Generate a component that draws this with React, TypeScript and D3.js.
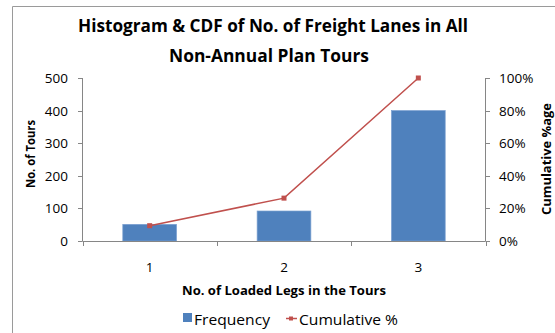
import React from "react";
import * as d3 from "d3";

const categories = ["1", "2", "3"];
const frequency = [51, 92, 400];
const cumulative = [9.4, 26.3, 100];
const leftTicks = [0, 100, 200, 300, 400, 500];
const rightTicks = [0, 20, 40, 60, 80, 100];

const W = 555;
const H = 333;
const FONT = "'Open Sans', 'Liberation Sans', sans-serif";
const AXIS = "#868686";
const BAR = "#4F81BD";
const LINE = "#C0504D";

export default function App() {
  const x = d3.scaleBand<string>().domain(categories).range([82.5, 485.5]).paddingInner(0).paddingOuter(0);
  const yL = d3.scaleLinear().domain([0, 500]).range([241, 78]);
  const yR = d3.scaleLinear().domain([0, 100]).range([241, 78]);
  const barW = x.bandwidth() * 0.4;
  const line = d3
    .line<number>()
    .x((_, i) => (x(categories[i]) as number) + x.bandwidth() / 2)
    .y((d) => yR(d));
  const boundaries = [...categories.map((c) => x(c) as number), 485.5];

  return (
    <svg
      width={W}
      height={H}
      style={{ position: "fixed", left: 0, top: 0, background: "#fff" }}
      fontFamily={FONT}
    >
      <rect x={0} y={0} width={W} height={H} fill="#fff" />
      {/* chart border */}
      <path d={`M12.5,${H} V6.5 H${W}`} fill="none" stroke="#9a9a9a" strokeWidth={1} />

      {/* title */}
      <text x={273} y={32} textAnchor="middle" fontWeight="bold" fontSize={17} fill="#000" textLength={390} lengthAdjust="spacingAndGlyphs">
        Histogram &amp; CDF of No. of Freight Lanes in All
      </text>
      <text x={269} y={62} textAnchor="middle" fontWeight="bold" fontSize={17} fill="#000" textLength={200} lengthAdjust="spacingAndGlyphs">
        Non-Annual Plan Tours
      </text>

      {/* bars */}
      {frequency.map((v, i) => {
        const cx = (x(categories[i]) as number) + x.bandwidth() / 2;
        return (
          <rect
            key={i}
            x={cx - barW / 2}
            y={yL(v)}
            width={barW}
            height={yL(0) - yL(v)}
            fill={BAR}
            stroke="#7a9fd0"
            strokeWidth={0.7}
          />
        );
      })}

      {/* left axis */}
      <line x1={82.5} x2={82.5} y1={yL(500)} y2={yL(0)} stroke={AXIS} />
      {leftTicks.map((t) => (
        <g key={t}>
          <line x1={78} x2={82.5} y1={Math.round(yL(t)) + 0.5} y2={Math.round(yL(t)) + 0.5} stroke={AXIS} />
          <text x={68} y={yL(t) + 5} textAnchor="end" fontSize={13.5} fill="#000">
            {t}
          </text>
        </g>
      ))}

      {/* right axis */}
      <line x1={485.5} x2={485.5} y1={yR(100)} y2={yR(0)} stroke={AXIS} />
      {rightTicks.map((t) => (
        <g key={t}>
          <line x1={485.5} x2={490} y1={Math.round(yR(t)) + 0.5} y2={Math.round(yR(t)) + 0.5} stroke={AXIS} />
          <text x={499} y={yR(t) + 5} textAnchor="start" fontSize={13.5} fill="#000">
            {t}%
          </text>
        </g>
      ))}

      {/* x axis */}
      <line x1={82.5} x2={485.5} y1={241.5} y2={241.5} stroke={AXIS} />
      {boundaries.map((b, i) => (
        <line key={i} x1={Math.round(b) + 0.5} x2={Math.round(b) + 0.5} y1={241.5} y2={246} stroke={AXIS} />
      ))}
      {categories.map((c) => (
        <text key={c} x={(x(c) as number) + x.bandwidth() / 2} y={272} textAnchor="middle" fontSize={13.5} fill="#000">
          {c}
        </text>
      ))}

      {/* cumulative line */}
      <path d={line(cumulative) || ""} fill="none" stroke={LINE} strokeWidth={1.5} />
      {cumulative.map((v, i) => {
        const cx = (x(categories[i]) as number) + x.bandwidth() / 2;
        return <rect key={i} x={cx - 2.5} y={yR(v) - 2.5} width={5} height={5} fill={LINE} />;
      })}

      {/* axis titles */}
      <text
        transform={`translate(35,154) rotate(-90)`}
        textAnchor="middle"
        fontWeight="bold"
        fontSize={12.5}
        fill="#000"
        textLength={68}
        lengthAdjust="spacingAndGlyphs"
      >
        No. of Tours
      </text>
      <text
        transform={`translate(551,159) rotate(-90)`}
        textAnchor="middle"
        fontWeight="bold"
        fontSize={12.5}
        fill="#000"
        textLength={112}
        lengthAdjust="spacingAndGlyphs"
      >
        Cumulative %age
      </text>
      <text x={284} y={295} textAnchor="middle" fontWeight="bold" fontSize={12.5} fill="#000" textLength={204} lengthAdjust="spacingAndGlyphs">
        No. of Loaded Legs in the Tours
      </text>

      {/* legend */}
      <rect x={183} y={313} width={9} height={9} fill={BAR} />
      <text x={194} y={325} fontSize={14} fill="#000" textLength={76} lengthAdjust="spacingAndGlyphs">
        Frequency
      </text>
      <line x1={286} x2={297} y1={318.5} y2={318.5} stroke={LINE} strokeWidth={1.5} />
      <rect x={289} y={316.5} width={4} height={4} fill={LINE} />
      <text x={299} y={325} fontSize={14} fill="#000" textLength={99} lengthAdjust="spacingAndGlyphs">
        Cumulative %
      </text>
    </svg>
  );
}
